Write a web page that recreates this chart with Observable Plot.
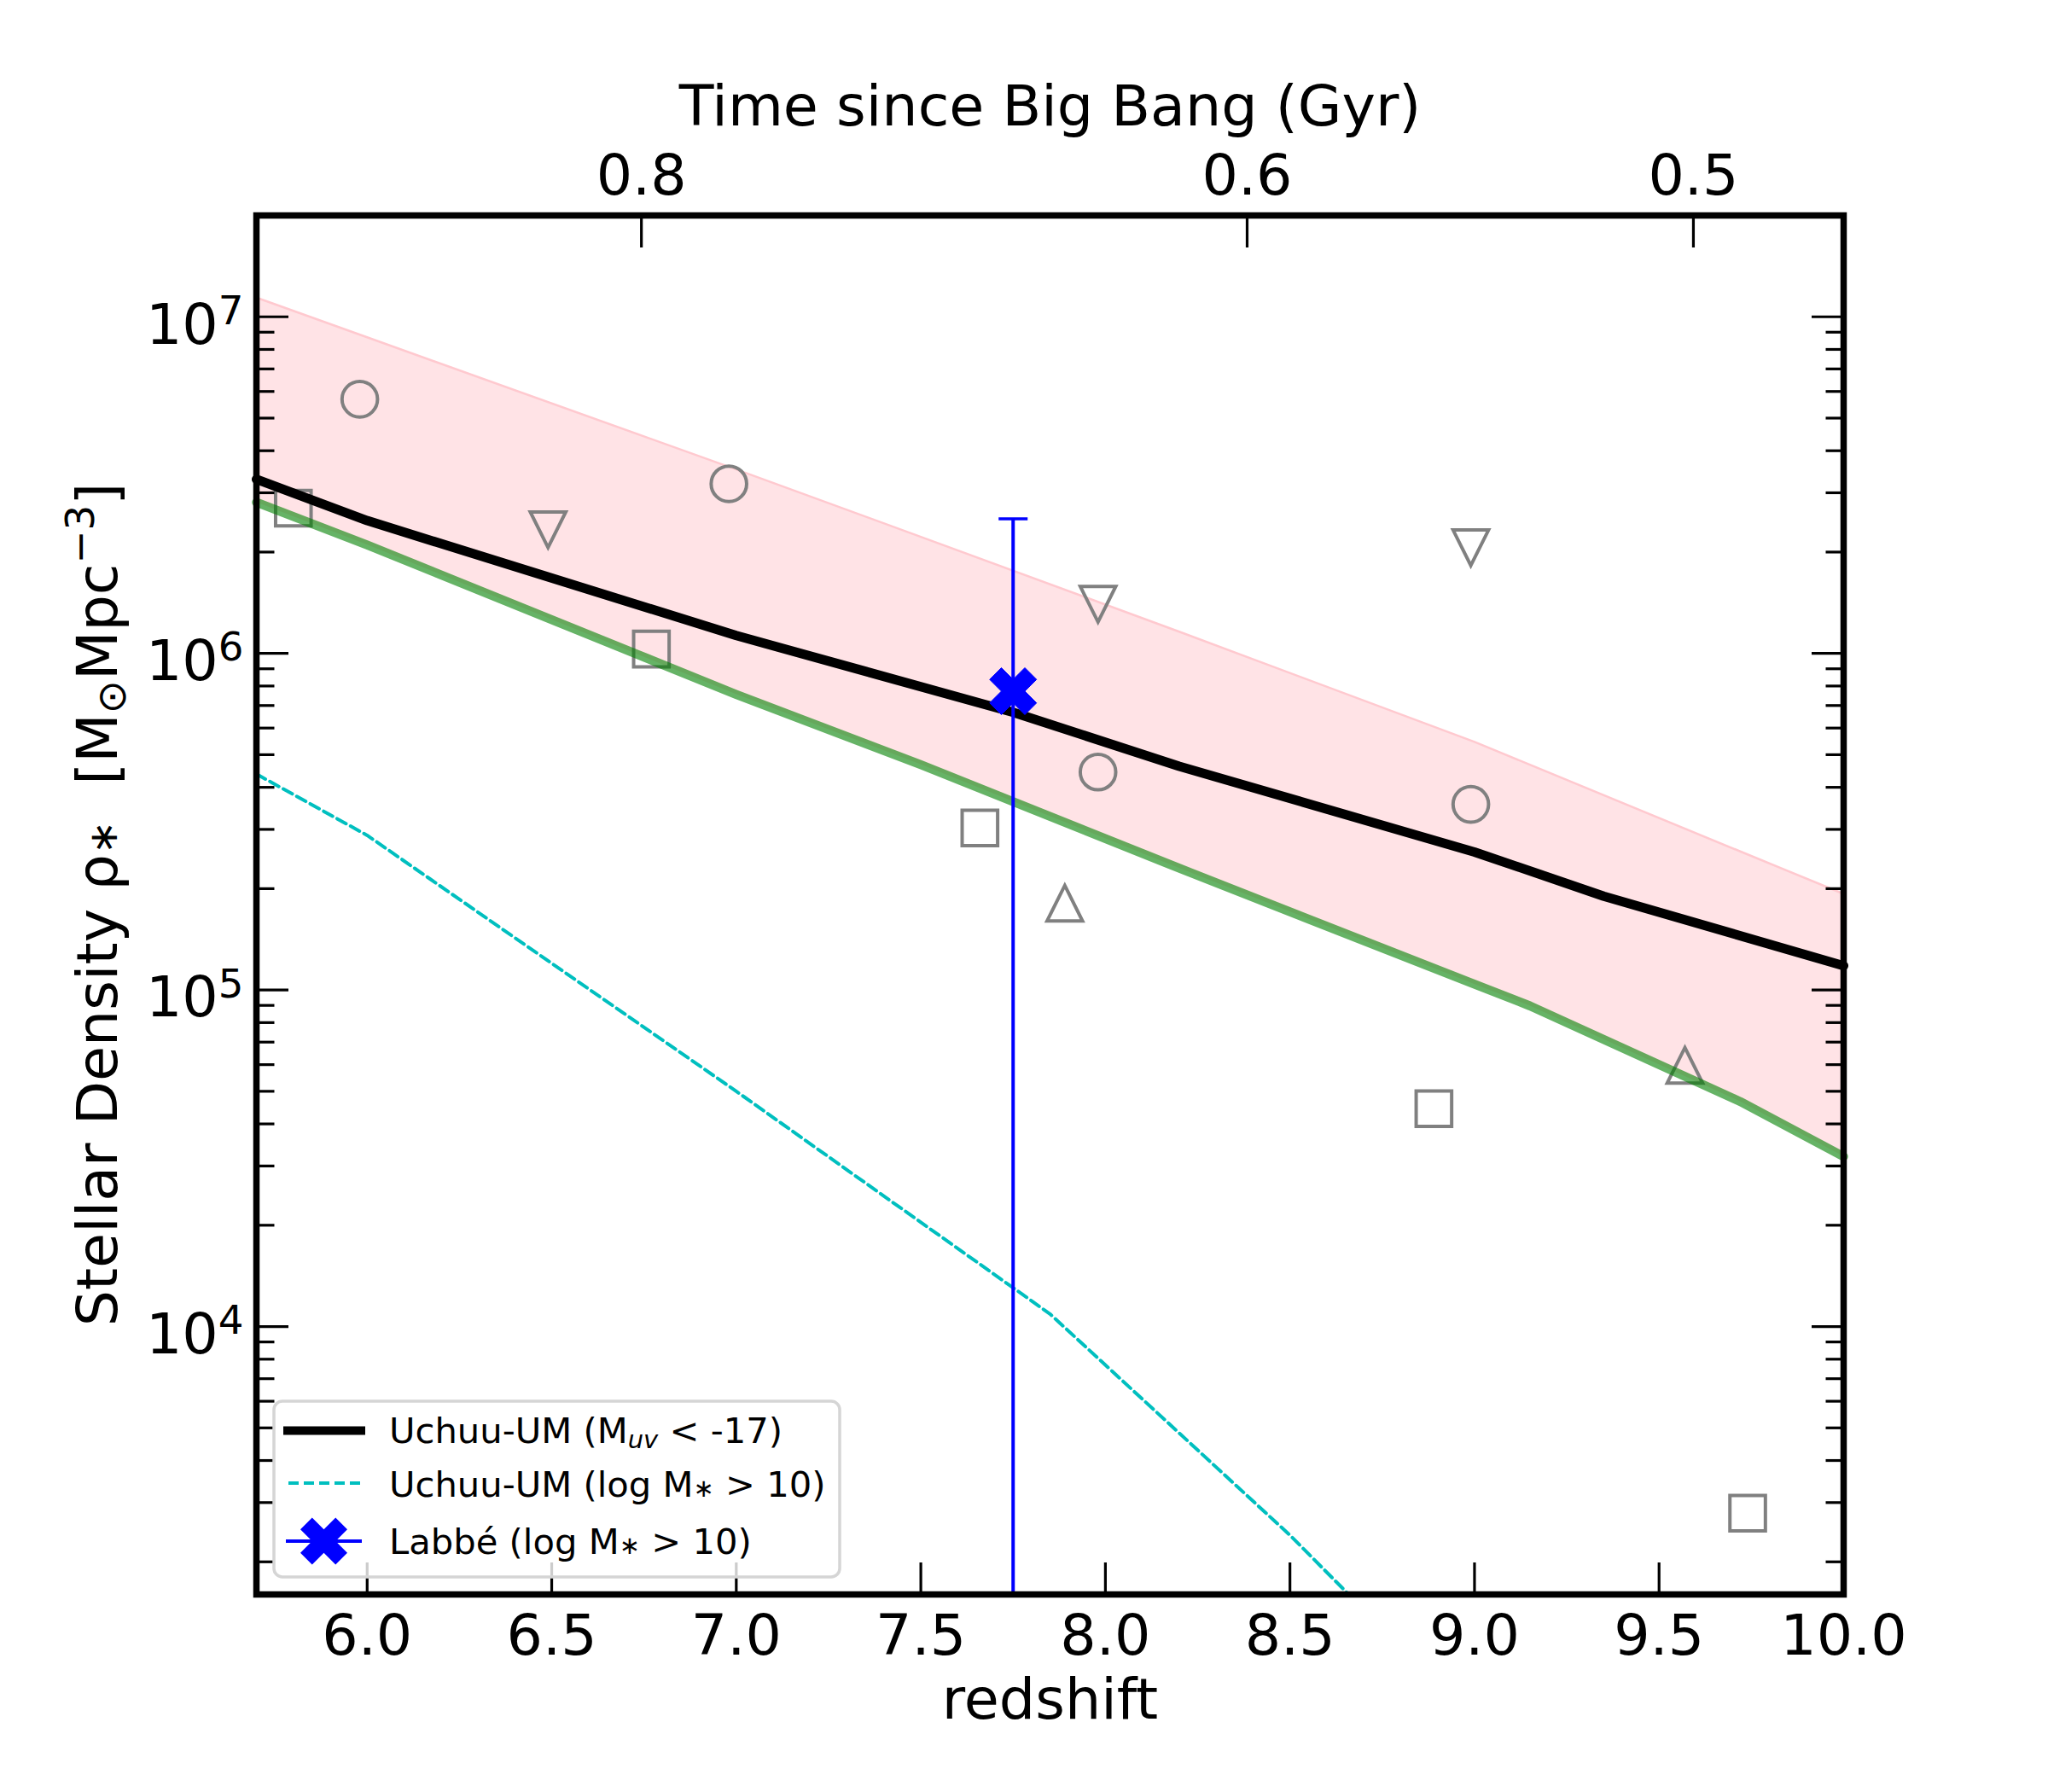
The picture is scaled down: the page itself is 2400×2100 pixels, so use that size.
<!DOCTYPE html>
<html><head><meta charset="utf-8">
<script src="https://cdn.jsdelivr.net/npm/d3@7"></script>
<script src="https://cdn.jsdelivr.net/npm/@observablehq/plot@0.6"></script>
<style>
body{margin:0;background:#fff}
#chart{width:2400px;height:2100px;position:relative}
</style>
</head><body><div id="chart"></div>
<script>
// ---- data ----
// pink band (lower edge = green curve)
const bandZ    = [5.7, 6.0, 7.0, 7.5, 8.2, 9.0, 9.15, 9.72, 10.0];
const bandLow  = [2.81e6, 2.10e6, 7.55e5, 4.67e5, 2.30e5, 1.04e5, 8.97e4, 4.66e4, 3.20e4];
const bandHigh = [1.14e7, 8.69e6, 3.52e6, 2.22e6, 1.16e6, 5.46e5, 4.67e5, 2.58e5, 1.93e5];
// Uchuu-UM (M_uv < -17)
const muvZ   = [5.7, 6.0, 7.0, 7.75, 8.2, 9.0, 9.35, 10.0];
const muvRho = [3.29e6, 2.48e6, 1.13e6, 6.68e5, 4.62e5, 2.57e5, 1.90e5, 1.18e5];
// Uchuu-UM (log M* > 10)
const massZ   = [5.7, 6.0, 7.0, 7.85, 8.5, 8.75];
const massRho = [4.38e5, 2.88e5, 5.0e4, 1.09e4, 2.4e3, 1.27e3];
// Labbé (log M* > 10)
const labbeZ   = [7.75];
const labbeRho = [7.72e5];
const labbeHi  = [2.51e6];
const labbeLo  = [1.0e3];
// literature points (gray open markers)
const circZ   = [5.98, 6.98, 7.98, 8.99];
const circRho = [5.69e6, 3.19e6, 4.44e5, 3.56e5];
const downZ   = [6.49, 7.98, 8.99];
const downRho = [2.33e6, 1.40e6, 2.06e6];
const upZ     = [7.89, 9.57];
const upRho   = [1.81e5, 5.97e4];
const sqZ     = [5.80, 6.77, 7.66, 8.89, 9.74];
const sqRho   = [2.70e6, 1.03e6, 3.03e5, 4.44e4, 2.79e3];
// ticks
const xTicks = [6.0, 6.5, 7.0, 7.5, 8.0, 8.5, 9.0, 9.5, 10.0];
const topTickZ = [6.743, 8.384, 9.593];
const topTickLabels = ["0.8", "0.6", "0.5"];
const yMajor = [1e4, 1e5, 1e6, 1e7];
const yMinor = [2e3,3e3,4e3,5e3,6e3,7e3,8e3,9e3,
                2e4,3e4,4e4,5e4,6e4,7e4,8e4,9e4,
                2e5,3e5,4e5,5e5,6e5,7e5,8e5,9e5,
                2e6,3e6,4e6,5e6,6e6,7e6,8e6,9e6];
const legendLabels = ["Uchuu-UM", "Uchuu-UM", "Labbé"];

// ---- symbols ----
const seg = (dx, dy) => ({draw(ctx){ ctx.moveTo(0,0); ctx.lineTo(dx,dy); }});
const rad = size => Math.sqrt(size / Math.PI);
const circleSym = {draw(ctx,size){ const r=rad(size); ctx.moveTo(r,0); ctx.arc(0,0,r,0,2*Math.PI); ctx.closePath(); }};
const squareSym = {draw(ctx,size){ const r=rad(size); ctx.moveTo(-r,-r); ctx.lineTo(r,-r); ctx.lineTo(r,r); ctx.lineTo(-r,r); ctx.closePath(); }};
const upSym     = {draw(ctx,size){ const r=rad(size); ctx.moveTo(0,-r); ctx.lineTo(r,r); ctx.lineTo(-r,r); ctx.closePath(); }};
const downSym   = {draw(ctx,size){ const r=rad(size); ctx.moveTo(0,r); ctx.lineTo(r,-r); ctx.lineTo(-r,-r); ctx.closePath(); }};
const xShape = [[-1,-2],[0,-1],[1,-2],[2,-1],[1,0],[2,1],[1,2],[0,1],[-1,2],[-2,1],[-1,0],[-2,-1]];
const xSym = {draw(ctx,size){ const u=rad(size)/2; ctx.moveTo(xShape[0][0]*u,xShape[0][1]*u);
  for (let i=1;i<xShape.length;i++) ctx.lineTo(xShape[i][0]*u,xShape[i][1]*u); ctx.closePath(); }};
const capSym = {draw(ctx){ ctx.moveTo(-17,0); ctx.lineTo(17,0); }};

const FS = 66.7, LFS = 41.7, GRAY = "#808080";
const topMap = new Map(topTickZ.map((z,i)=>[z, topTickLabels[i]]));
const tickDots = (vals, anchor, sym) => Plot.dot(vals, {
  ...(anchor==="left"||anchor==="right" ? {y: d=>d} : {x: d=>d}),
  frameAnchor: anchor, symbol: sym, fill: "none", stroke: "black", strokeWidth: 3.2});

const chart = Plot.plot({
  width: 2400, height: 2100,
  marginLeft: 300, marginRight: 240, marginTop: 252, marginBottom: 232,
  style: {fontFamily: "DejaVu Sans", fontSize: FS + "px", background: "white", color: "black"},
  x: {domain: [5.7, 10.0]},
  y: {type: "log", domain: [1.6e3, 2e7]},
  marks: [
    Plot.areaY(bandZ, {x: bandZ, y1: bandLow, y2: bandHigh, fill: "#ffe3e6"}),
    Plot.line(bandZ, {x: bandZ, y: bandHigh, stroke: "#ffc9cf", strokeWidth: 2.5}),
    Plot.dot(circZ, {x: circZ, y: circRho, symbol: circleSym, r: 20.8, fill: "none", stroke: GRAY, strokeWidth: 4}),
    Plot.dot(sqZ,   {x: sqZ,   y: sqRho,   symbol: squareSym, r: 20.8, fill: "none", stroke: GRAY, strokeWidth: 4}),
    Plot.dot(upZ,   {x: upZ,   y: upRho,   symbol: upSym,     r: 20.8, fill: "none", stroke: GRAY, strokeWidth: 4}),
    Plot.dot(downZ, {x: downZ, y: downRho, symbol: downSym,   r: 20.8, fill: "none", stroke: GRAY, strokeWidth: 4}),
    Plot.line(bandZ, {x: bandZ, y: bandLow, stroke: "green", strokeOpacity: 0.6, strokeWidth: 10.5, strokeLinejoin: "round"}),
    Plot.line(muvZ, {x: muvZ, y: muvRho, stroke: "black", strokeWidth: 11, strokeLinejoin: "round"}),
    Plot.line(massZ, {x: massZ, y: massRho, stroke: "#00bfbf", strokeWidth: 4, strokeDasharray: "12,6", clip: true}),
    Plot.ruleX(labbeZ, {x: labbeZ, y1: labbeLo, y2: labbeHi, stroke: "blue", strokeWidth: 4, clip: true}),
    Plot.dot(labbeZ, {x: labbeZ, y: labbeHi, symbol: capSym, fill: "none", stroke: "blue", strokeWidth: 3.6}),
    Plot.dot(labbeZ, {x: labbeZ, y: labbeRho, symbol: xSym, r: 27.5, fill: "blue", stroke: "blue", strokeWidth: 1}),
    // inward ticks
    tickDots(yMajor, "left", seg(37.5, 0)),
    tickDots(yMinor, "left", seg(21, 0)),
    tickDots(yMajor, "right", seg(-37.5, 0)),
    tickDots(yMinor, "right", seg(-21, 0)),
    tickDots(xTicks, "bottom", seg(0, -37.5)),
    tickDots(topTickZ, "top", seg(0, 37.5)),
    Plot.frame({stroke: "black", strokeWidth: 7.5}),
    Plot.axisX({anchor: "bottom", ticks: xTicks, tickFormat: d => d.toFixed(1), tickSize: 0, tickPadding: 23, label: null, fontSize: FS}),
    Plot.axisX({anchor: "top", ticks: topTickZ, tickFormat: d => topMap.get(d), tickSize: 0, tickPadding: 25, label: null, fontSize: FS}),
    Plot.axisY({anchor: "left", ticks: yMajor, tickFormat: d => "10^" + Math.round(Math.log10(d)), tickSize: 0, tickPadding: 15, dy: 10, label: null, fontSize: FS}),
    Plot.text(["redshift"], {text: d => d, frameAnchor: "bottom", lineAnchor: "bottom", dy: 145, fontSize: FS}),
    Plot.text(["Time since Big Bang (Gyr)"], {text: d => d, frameAnchor: "top", lineAnchor: "bottom", dy: -106, fontSize: FS})
  ]
});
document.getElementById("chart").appendChild(chart);

const svg = d3.select(chart);
// superscript exponents on y tick labels
svg.selectAll("text").each(function() {
  const m = (this.textContent || "").match(/^10\^(\d+)$/);
  if (!m) return;
  const t = d3.select(this);
  t.text("10");
  t.append("tspan").attr("dy", -22.6).attr("font-size", 46.7).text(m[1]);
});

// y-axis label
const yl = svg.append("text")
  .attr("transform", "translate(137,1060) rotate(-90)")
  .attr("text-anchor", "middle")
  .attr("font-family", "DejaVu Sans").attr("font-size", FS).attr("fill", "black");
yl.append("tspan").text("Stellar Density ρ");
yl.append("tspan").attr("font-size", 46.7).text("∗");
yl.append("tspan").attr("font-size", FS).text("\u00a0\u00a0[M");
yl.append("tspan").attr("font-size", 46.7).attr("dy", 9.5).text("⊙");
yl.append("tspan").attr("font-size", FS).attr("dy", -9.5).text("Mpc");
yl.append("tspan").attr("font-size", 46.7).attr("dy", -27).text("−3");
yl.append("tspan").attr("font-size", FS).attr("dy", 27).text("]");

// legend
const lg = svg.append("g").attr("font-family", "DejaVu Sans").attr("font-size", LFS)
  .attr("fill", "black").attr("text-anchor", "start");
lg.append("rect").attr("x", 321).attr("y", 1642).attr("width", 663).attr("height", 206).attr("rx", 10)
  .attr("fill", "white").attr("fill-opacity", 0.8).attr("stroke", "#d5d5d5").attr("stroke-width", 3.5);
lg.append("line").attr("x1", 332).attr("x2", 428).attr("y1", 1676.6).attr("y2", 1676.6)
  .attr("stroke", "black").attr("stroke-width", 10);
lg.append("line").attr("x1", 338).attr("x2", 424).attr("y1", 1738).attr("y2", 1738)
  .attr("stroke", "#00bfbf").attr("stroke-width", 4).attr("stroke-dasharray", "12,6");
lg.append("line").attr("x1", 335).attr("x2", 424).attr("y1", 1806).attr("y2", 1806)
  .attr("stroke", "blue").attr("stroke-width", 4);
lg.append("path").attr("transform", "translate(379.5,1806)")
  .attr("d", d3.symbol(xSym, Math.PI * 27.5 * 27.5)()).attr("fill", "blue");
const t1 = lg.append("text").attr("x", 456).attr("y", 1691).attr("text-anchor", "start");
t1.append("tspan").text(legendLabels[0] + " (M");
t1.append("tspan").attr("font-size", 29).attr("font-style", "italic").attr("dy", 6).text("uv");
t1.append("tspan").attr("dy", -6).text(" < -17)");
const t2 = lg.append("text").attr("x", 456).attr("y", 1754).attr("text-anchor", "start");
t2.append("tspan").text(legendLabels[1] + " (log M");
t2.append("tspan").attr("font-size", 29).text("∗");
t2.append("tspan").text(" > 10)");
const t3 = lg.append("text").attr("x", 456).attr("y", 1820.5).attr("text-anchor", "start");
t3.append("tspan").text(legendLabels[2] + " (log M");
t3.append("tspan").attr("font-size", 29).text("∗");
t3.append("tspan").text(" > 10)");
</script>
</body></html>
